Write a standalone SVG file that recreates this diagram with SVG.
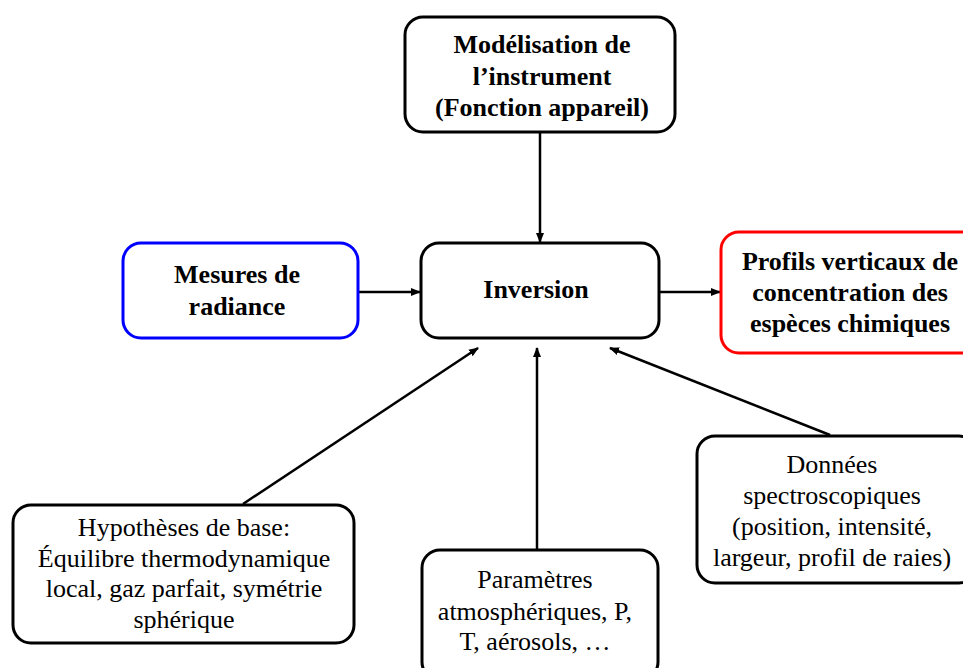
<svg xmlns="http://www.w3.org/2000/svg" width="963" height="668" viewBox="0 0 963 668">
<style>
.box{fill:#fff;stroke:#000;stroke-width:3}
.b{font-family:"Liberation Serif","Times New Roman",serif;font-weight:bold;font-size:26px;text-anchor:middle;fill:#000}
.r{font-family:"Liberation Serif","Times New Roman",serif;font-size:26px;text-anchor:middle;fill:#000}
.c{stroke:#000;stroke-width:2.5;fill:none;marker-end:url(#ah)}
</style>
<defs>
<marker id="ah" viewBox="0 0 10 10" refX="9" refY="5" markerWidth="4" markerHeight="4" orient="auto" markerUnits="strokeWidth">
<path d="M0,1 L10,5 L0,9 z" fill="#000"/>
</marker>
</defs>
<rect width="963" height="668" fill="#fff"/>
<g id="connectors">
<line class="c" x1="540" y1="133" x2="540" y2="242"/>
<line class="c" x1="359" y1="292" x2="420" y2="292"/>
<line class="c" x1="660" y1="292" x2="720" y2="292"/>
<line class="c" x1="243" y1="504" x2="478" y2="348"/>
<line class="c" x1="537" y1="549" x2="537" y2="348"/>
<line class="c" x1="830" y1="435" x2="610" y2="348"/>
</g>
<g id="modelisation">
<rect class="box" x="405" y="17" width="270" height="115" rx="18"/>
<text class="b" x="542" y="53">Modélisation de</text>
<text class="b" x="542" y="85">l’instrument</text>
<text class="b" x="542" y="116">(Fonction appareil)</text>
</g>
<g id="mesures">
<rect class="box" x="123" y="243" width="235" height="95" rx="18" style="stroke:#0000ff"/>
<text class="b" x="237" y="283">Mesures de</text>
<text class="b" x="237" y="315">radiance</text>
</g>
<g id="inversion">
<rect class="box" x="421" y="243" width="238" height="95" rx="18"/>
<text class="b" x="536" y="298">Inversion</text>
</g>
<g id="profils">
<rect class="box" x="721" y="232" width="260" height="121" rx="18" style="stroke:#ff0000"/>
<text class="b" x="850" y="270">Profils verticaux de</text>
<text class="b" x="850" y="301">concentration des</text>
<text class="b" x="850" y="332">espèces chimiques</text>
</g>
<g id="hypotheses">
<rect class="box" x="13" y="505" width="341" height="138" rx="18"/>
<text class="r" x="184" y="536">Hypothèses de base:</text>
<text class="r" x="184" y="567">Équilibre thermodynamique</text>
<text class="r" x="184" y="597">local, gaz parfait, symétrie</text>
<text class="r" x="184" y="628">sphérique</text>
</g>
<g id="parametres">
<rect class="box" x="422" y="550" width="236" height="130" rx="18"/>
<text class="r" x="535" y="588">Paramètres</text>
<text class="r" x="535" y="620">atmosphériques, P,</text>
<text class="r" x="535" y="650">T, aérosols, …</text>
</g>
<g id="donnees">
<rect class="box" x="697" y="436" width="280" height="147" rx="18"/>
<text class="r" x="832" y="473">Données</text>
<text class="r" x="832" y="504">spectroscopiques</text>
<text class="r" x="832" y="535">(position, intensité,</text>
<text class="r" x="832" y="566">largeur, profil de raies)</text>
</g>
</svg>
